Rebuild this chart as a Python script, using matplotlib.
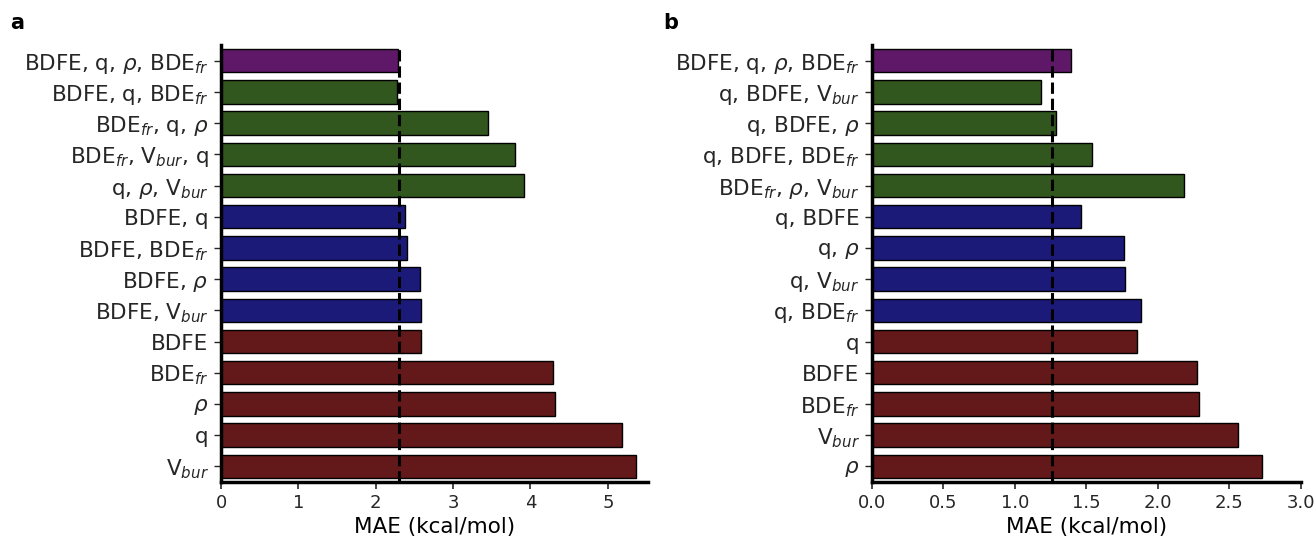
import matplotlib.pyplot as plt

# Panel a: feature combinations and their MAE
etiquetas_a = [r'BDFE, q, $\rho$, BDE$_{fr}$', r'BDFE, q, BDE$_{fr}$', r'BDE$_{fr}$, q, $\rho$',
               r'BDE$_{fr}$, V$_{bur}$, q', r'q, $\rho$, V$_{bur}$', 'BDFE, q', r'BDFE, BDE$_{fr}$',
               r'BDFE, $\rho$', r'BDFE, V$_{bur}$', 'BDFE', r'BDE$_{fr}$', r'$\rho$', 'q', r'V$_{bur}$']
mae_a = [2.29, 2.28, 3.45, 3.80, 3.91, 2.38, 2.40, 2.57, 2.59, 2.58, 4.29, 4.32, 5.18, 5.36]
grupo_a = [4, 3, 3, 3, 3, 2, 2, 2, 2, 1, 1, 1, 1, 1]
referencia_a = 2.30

# Panel b
etiquetas_b = [r'BDFE, q, $\rho$, BDE$_{fr}$', r'q, BDFE, V$_{bur}$', r'q, BDFE, $\rho$',
               r'q, BDFE, BDE$_{fr}$', r'BDE$_{fr}$, $\rho$, V$_{bur}$', 'q, BDFE', r'q, $\rho$',
               r'q, V$_{bur}$', r'q, BDE$_{fr}$', 'q', 'BDFE', r'BDE$_{fr}$', r'V$_{bur}$', r'$\rho$']
mae_b = [1.39, 1.18, 1.29, 1.54, 2.18, 1.46, 1.76, 1.77, 1.88, 1.85, 2.27, 2.29, 2.56, 2.73]
grupo_b = [4, 3, 3, 3, 3, 2, 2, 2, 2, 1, 1, 1, 1, 1]
referencia_b = 1.26

# color segun numero de descriptores
colores = {1: '#63181a', 2: '#1b1a78', 3: '#31561e', 4: '#5f1868'}

plt.rcParams['font.family'] = 'DejaVu Sans'
plt.rcParams['text.color'] = '#262626'
plt.rcParams['xtick.color'] = '#262626'
plt.rcParams['ytick.color'] = '#262626'

fig = plt.figure(figsize=(13.14, 5.40), dpi=100)
ax_a = fig.add_axes([0.1682, 0.1074, 0.325, 0.809])
ax_b = fig.add_axes([0.6636, 0.1074, 0.3265, 0.809])


def graficar(ax, etiquetas, valores, grupos, referencia, xmax, xticks):
    pos = list(range(len(etiquetas)))
    ax.barh(pos, valores, height=0.75, color=[colores[g] for g in grupos],
            edgecolor='black', linewidth=1.0, zorder=2)
    ax.axvline(referencia, color='black', linestyle='--', linewidth=2.2, zorder=3)
    ax.set_yticks(pos)
    ax.set_yticklabels(etiquetas, fontsize=15.5)
    ax.set_ylim(len(etiquetas) - 0.5, -0.5)
    ax.set_xlim(0, xmax)
    ax.set_xticks(xticks)
    ax.tick_params(axis='x', labelsize=13, length=5, width=1.2, colors='#262626')
    ax.tick_params(axis='y', length=5, width=1.0, pad=4)
    ax.set_xlabel('MAE (kcal/mol)', fontsize=15.5, labelpad=4)
    for lado in ['top', 'right']:
        ax.spines[lado].set_visible(False)
    for lado in ['left', 'bottom']:
        ax.spines[lado].set_linewidth(2.5)
        ax.spines[lado].set_color('black')


graficar(ax_a, etiquetas_a, mae_a, grupo_a, referencia_a, 5.52, [0, 1, 2, 3, 4, 5])
graficar(ax_b, etiquetas_b, mae_b, grupo_b, referencia_b, 3.0, [0.0, 0.5, 1.0, 1.5, 2.0, 2.5, 3.0])
ax_b.set_xticklabels(['0.0', '0.5', '1.0', '1.5', '2.0', '2.5', '3.0'])

fig.text(0.008, 0.957, 'a', fontsize=15, fontweight='bold', color='black', va='center')
fig.text(0.505, 0.957, 'b', fontsize=15, fontweight='bold', color='black', va='center')

fig.savefig('out.png', dpi=100)
